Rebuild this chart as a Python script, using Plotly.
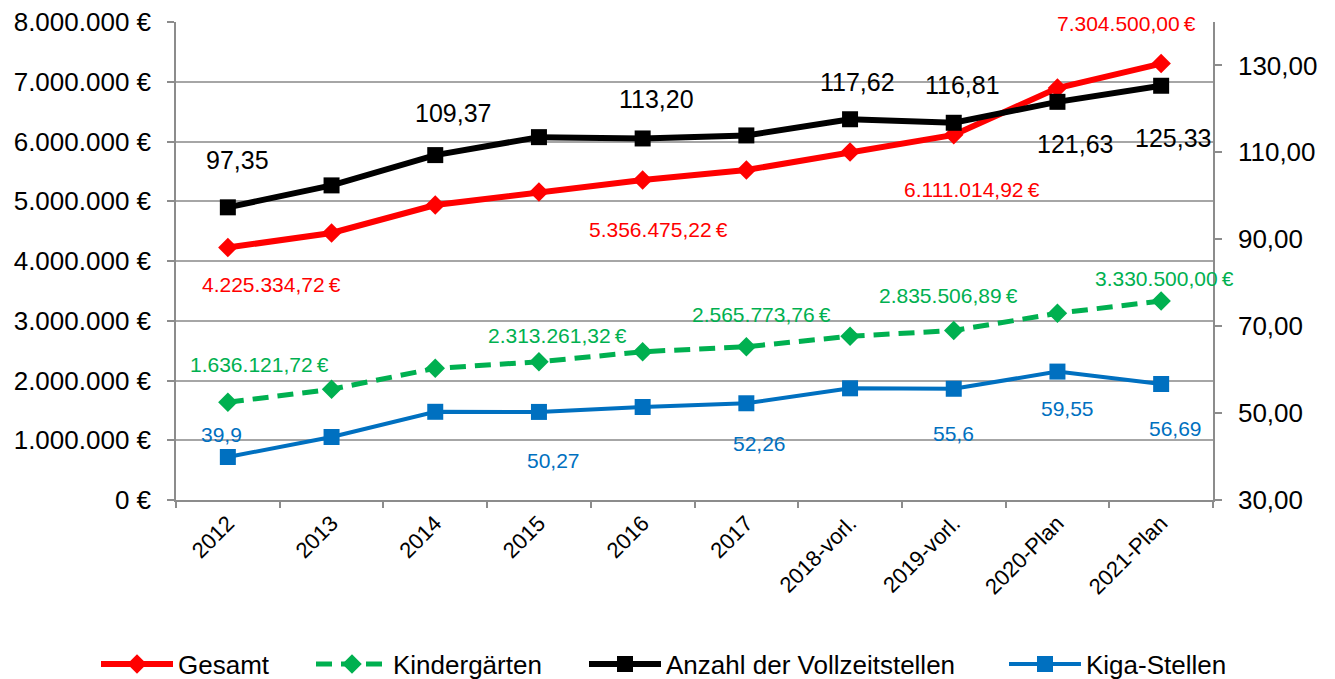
import plotly.graph_objects as go

# ---------------- data ----------------
years = ["2012", "2013", "2014", "2015", "2016", "2017",
         "2018-vorl.", "2019-vorl.", "2020-Plan", "2021-Plan"]
gesamt = [4225334.72, 4469000, 4937000, 5155000, 5356475.22,
          5523000, 5824000, 6111014.92, 6895000, 7304500.00]
kindergaerten = [1636121.72, 1853000, 2204000, 2313261.32, 2482000,
                 2565773.76, 2740000, 2835506.89, 3125000, 3330500.00]
vollzeitstellen = [97.35, 102.4, 109.37, 113.5, 113.20,
                   113.9, 117.62, 116.81, 121.63, 125.33]
kiga_stellen = [39.9, 44.5, 50.3, 50.27, 51.4,
                52.26, 55.7, 55.6, 59.55, 56.69]

# which points carry a data label, with pixel offsets (xshift, yshift)
lab_gesamt = {0: (44, -37), 4: (16, -50), 7: (18, -55), 9: (-35, 40)}
lab_kinder = {0: (32, 38), 3: (19, 26), 5: (15, 32), 7: (-5, 35), 9: (3, 23)}
lab_vollzeit = {0: (10, 47), 2: (18, 42), 4: (14, 39), 6: (7, 37),
                7: (9, 38), 8: (18, -42), 9: (12, -52)}
lab_kiga = {0: (-6, 22), 3: (15, -49), 5: (13, -40), 7: (0, -45),
            8: (10, -37), 9: (14, -44)}

RED = "#FF0000"
GREEN = "#00B050"
BLACK = "#000000"
BLUE = "#0070C0"
GRID = "#A6A6A6"
AXIS = "#8C8C8C"
FONT = "Liberation Sans, Arial, sans-serif"
# the page body has an 8px margin, so the figure is 8px smaller
W, H = 1327, 671


def eur(v):
    s = f"{v:,.2f}".replace(",", "X").replace(".", ",").replace("X", ".")
    return s + "\u202f€"


def dec2(v):
    return f"{v:.2f}".replace(".", ",")


def gen(v):
    return f"{v:g}".replace(".", ",")


fig = go.Figure()

fig.add_trace(go.Scatter(
    x=years, y=gesamt, name="Gesamt", mode="lines+markers",
    line=dict(color=RED, width=6),
    marker=dict(symbol="diamond", size=15, color=RED),
    yaxis="y", legend="legend"))
fig.add_trace(go.Scatter(
    x=years, y=kindergaerten, name="Kindergärten", mode="lines+markers",
    line=dict(color=GREEN, width=5, dash="16px,9px"),
    marker=dict(symbol="diamond", size=15, color=GREEN),
    yaxis="y", legend="legend2"))
fig.add_trace(go.Scatter(
    x=years, y=vollzeitstellen, name="Anzahl der Vollzeitstellen",
    mode="lines+markers",
    line=dict(color=BLACK, width=6),
    marker=dict(symbol="square", size=16, color=BLACK),
    yaxis="y2", legend="legend3"))
fig.add_trace(go.Scatter(
    x=years, y=kiga_stellen, name="Kiga-Stellen", mode="lines+markers",
    line=dict(color=BLUE, width=4),
    marker=dict(symbol="square", size=16, color=BLUE),
    yaxis="y2", legend="legend4"))

annotations = []


def add_labels(values, spec, yref, color, size, fmt):
    for i, (dx, dy) in spec.items():
        annotations.append(dict(
            x=i, y=values[i], xref="x", yref=yref,
            text=fmt(values[i]), showarrow=False,
            xshift=dx, yshift=dy,
            font=dict(family=FONT, size=size, color=color)))


add_labels(gesamt, lab_gesamt, "y", RED, 21, eur)
add_labels(kindergaerten, lab_kinder, "y", GREEN, 21, eur)
add_labels(vollzeitstellen, lab_vollzeit, "y2", BLACK, 25, dec2)
add_labels(kiga_stellen, lab_kiga, "y2", BLUE, 21, gen)


def legend_at(px):
    return dict(orientation="h", xref="container", yref="container",
                x=px / W, xanchor="left", y=(H - 656) / H, yanchor="middle",
                font=dict(family=FONT, size=26, color="black"),
                itemwidth=72, bgcolor="rgba(0,0,0,0)")


fig.update_layout(
    width=W, height=H,
    margin=dict(l=168, r=122, t=14, b=179, autoexpand=False),
    paper_bgcolor="white", plot_bgcolor="white",
    separators=",.",
    font=dict(family=FONT, size=24, color="black"),
    showlegend=True,
    legend=legend_at(88),
    legend2=legend_at(303),
    legend3=legend_at(576),
    legend4=legend_at(996),
    annotations=annotations,
    xaxis=dict(
        type="category", range=[-0.5, len(years) - 0.5],
        automargin=False,
        showgrid=False, showline=True,
        linecolor=AXIS, linewidth=1.5, tickson="boundaries",
        ticks="outside", ticklen=6, tickcolor=AXIS, tickwidth=1.5,
        tickangle=-45, tickfont=dict(family=FONT, size=22, color="black")),
    yaxis=dict(
        range=[0, 8000000], dtick=1000000, tick0=0, automargin=False,
        tickformat=",.0f", ticksuffix=" €",
        showgrid=True, gridcolor=GRID, gridwidth=1.5,
        showline=True, linecolor=AXIS, linewidth=1.5,
        ticks="outside", ticklen=7, tickcolor=AXIS, tickwidth=1.5,
        ticklabelstandoff=11, ticklabeloverflow="allow",
        tickfont=dict(family=FONT, size=26, color="black"),
        zeroline=False),
    yaxis2=dict(
        range=[30, 140], dtick=20, tick0=30, overlaying="y", side="right",
        automargin=False,
        tickformat=".2f", showgrid=False,
        showline=True, linecolor=AXIS, linewidth=1.5,
        ticks="outside", ticklen=7, tickcolor=AXIS, tickwidth=1.5,
        ticklabelstandoff=11, ticklabeloverflow="allow",
        tickfont=dict(family=FONT, size=26, color="black"),
        zeroline=False),
)

fig.write_html("out.html")
